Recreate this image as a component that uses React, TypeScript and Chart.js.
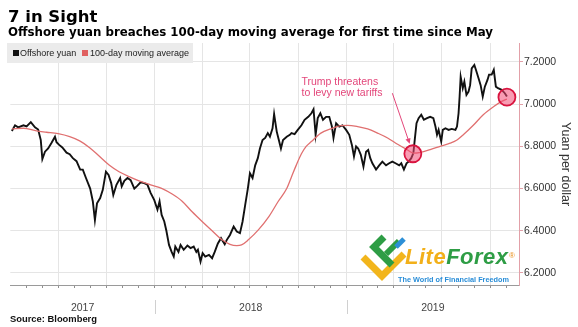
import React, { useEffect, useRef } from 'react';
import { Chart, registerables } from 'chart.js';

Chart.register(...registerables);

// Offshore yuan per dollar, sampled closes
const yuanDates = [
  '2017-04-04', '2017-04-10', '2017-04-16', '2017-04-26', '2017-05-02', '2017-05-10', '2017-05-18', '2017-05-24',
  '2017-05-29', '2017-06-01', '2017-06-06', '2017-06-12', '2017-06-18', '2017-06-25', '2017-06-28', '2017-07-03',
  '2017-07-09', '2017-07-17', '2017-07-23', '2017-07-29', '2017-08-05', '2017-08-12', '2017-08-17', '2017-08-23',
  '2017-08-31', '2017-09-05', '2017-09-09', '2017-09-13', '2017-09-19', '2017-09-24', '2017-09-30', '2017-10-05',
  '2017-10-10', '2017-10-14', '2017-10-20', '2017-10-27', '2017-10-30', '2017-11-04', '2017-11-10', '2017-11-16',
  '2017-11-23', '2017-11-29', '2017-12-05', '2017-12-12', '2017-12-18', '2017-12-24', '2017-12-31', '2018-01-06',
  '2018-01-10', '2018-01-14', '2018-01-19', '2018-01-23', '2018-01-28', '2018-02-02', '2018-02-06', '2018-02-09',
  '2018-02-15', '2018-02-19', '2018-02-25', '2018-03-04', '2018-03-10', '2018-03-16', '2018-03-21', '2018-03-24',
  '2018-03-29', '2018-04-02', '2018-04-07', '2018-04-14', '2018-04-20', '2018-04-25', '2018-05-01', '2018-05-07',
  '2018-05-14', '2018-05-18', '2018-05-24', '2018-05-31', '2018-06-06', '2018-06-12', '2018-06-17', '2018-06-22',
  '2018-06-27', '2018-07-01', '2018-07-06', '2018-07-11', '2018-07-16', '2018-07-20', '2018-07-25', '2018-07-30',
  '2018-08-04', '2018-08-08', '2018-08-13', '2018-08-16', '2018-08-21', '2018-08-25', '2018-08-29', '2018-09-02',
  '2018-09-09', '2018-09-15', '2018-09-18', '2018-09-24', '2018-09-30', '2018-10-07', '2018-10-13', '2018-10-20',
  '2018-10-26', '2018-10-30', '2018-11-03', '2018-11-07', '2018-11-12', '2018-11-17', '2018-11-23', '2018-11-29',
  '2018-12-04', '2018-12-07', '2018-12-12', '2018-12-18', '2018-12-24', '2018-12-31', '2019-01-06', '2019-01-11',
  '2019-01-15', '2019-01-19', '2019-01-23', '2019-01-28', '2019-02-02', '2019-02-07', '2019-02-11', '2019-02-15',
  '2019-02-19', '2019-02-26', '2019-03-04', '2019-03-10', '2019-03-17', '2019-03-23', '2019-03-29', '2019-04-04',
  '2019-04-11', '2019-04-15', '2019-04-20', '2019-04-25', '2019-04-29', '2019-05-04', '2019-05-08', '2019-05-11',
  '2019-05-14', '2019-05-18', '2019-05-23', '2019-05-28', '2019-06-03', '2019-06-09', '2019-06-15', '2019-06-19',
  '2019-06-22', '2019-06-25', '2019-06-30', '2019-07-03', '2019-07-08', '2019-07-14', '2019-07-20', '2019-07-27',
  '2019-07-30', '2019-08-02', '2019-08-04', '2019-08-06', '2019-08-10', '2019-08-13', '2019-08-17', '2019-08-21',
  '2019-08-24', '2019-08-27', '2019-09-01', '2019-09-04', '2019-09-09', '2019-09-13', '2019-09-17', '2019-09-21',
  '2019-09-26', '2019-09-29', '2019-10-04', '2019-10-08', '2019-10-12', '2019-10-16', '2019-10-23', '2019-10-29',
  '2019-11-02',
];
const yuanValues = [
  6.873, 6.900, 6.890, 6.900, 6.895, 6.915, 6.890, 6.880,
  6.830, 6.740, 6.775, 6.790, 6.815, 6.846, 6.820, 6.807,
  6.795, 6.770, 6.763, 6.744, 6.730, 6.690, 6.690, 6.650,
  6.600, 6.540, 6.450, 6.530, 6.555, 6.594, 6.680, 6.665,
  6.626, 6.570, 6.618, 6.650, 6.610, 6.637, 6.650, 6.640,
  6.600, 6.614, 6.630, 6.626, 6.618, 6.580, 6.545, 6.500,
  6.540, 6.475, 6.444, 6.400, 6.333, 6.300, 6.278, 6.325,
  6.300, 6.333, 6.310, 6.330, 6.318, 6.325, 6.300, 6.310,
  6.254, 6.294, 6.278, 6.286, 6.270, 6.300, 6.340, 6.365,
  6.336, 6.357, 6.380, 6.420, 6.396, 6.389, 6.444, 6.523,
  6.600, 6.673, 6.650, 6.710, 6.744, 6.790, 6.830, 6.840,
  6.863, 6.846, 6.886, 6.953, 6.870, 6.830, 6.790, 6.830,
  6.846, 6.855, 6.863, 6.858, 6.878, 6.900, 6.926, 6.940,
  6.957, 6.976, 6.855, 6.934, 6.957, 6.926, 6.940, 6.940,
  6.894, 6.840, 6.910, 6.894, 6.900, 6.878, 6.855, 6.807,
  6.752, 6.800, 6.790, 6.760, 6.704, 6.775, 6.783, 6.744,
  6.720, 6.690, 6.710, 6.728, 6.710, 6.720, 6.728, 6.720,
  6.710, 6.720, 6.690, 6.720, 6.728, 6.744, 6.768, 6.840,
  6.910, 6.934, 6.950, 6.926, 6.934, 6.940, 6.934, 6.894,
  6.855, 6.878, 6.823, 6.878, 6.886, 6.878, 6.883, 6.878,
  6.894, 6.957, 7.036, 7.130, 7.076, 7.107, 7.044, 7.060,
  7.090, 7.170, 7.186, 7.163, 7.123, 7.090, 7.036, 7.083,
  7.115, 7.140, 7.140, 7.163, 7.083, 7.076, 7.068, 7.052,
  7.036,
];

// 100-day moving average
const maDates = [
  '2017-04-04', '2017-04-26', '2017-05-21', '2017-06-09', '2017-07-01', '2017-07-23', '2017-08-11', '2017-08-30',
  '2017-09-18', '2017-10-06', '2017-10-25', '2017-11-13', '2017-12-02', '2017-12-24', '2018-01-15', '2018-02-03',
  '2018-02-22', '2018-03-13', '2018-04-01', '2018-04-20', '2018-05-09', '2018-05-24', '2018-06-06', '2018-06-15',
  '2018-06-28', '2018-07-17', '2018-08-06', '2018-08-24', '2018-09-09', '2018-09-18', '2018-09-27', '2018-10-07',
  '2018-10-16', '2018-10-26', '2018-11-13', '2018-12-02', '2018-12-21', '2019-01-03', '2019-01-22', '2019-02-10',
  '2019-03-01', '2019-03-20', '2019-04-08', '2019-04-27', '2019-05-08', '2019-05-22', '2019-06-09', '2019-06-28',
  '2019-07-17', '2019-07-30', '2019-08-11', '2019-08-30', '2019-09-18', '2019-10-08', '2019-10-22', '2019-11-02',
];
const maValues = [
  6.883, 6.886, 6.873, 6.867, 6.860, 6.846, 6.826, 6.794,
  6.752, 6.712, 6.680, 6.657, 6.637, 6.618, 6.600, 6.574,
  6.540, 6.490, 6.444, 6.400, 6.357, 6.336, 6.330, 6.333,
  6.357, 6.404, 6.467, 6.540, 6.600, 6.655, 6.710, 6.765,
  6.800, 6.823, 6.863, 6.883, 6.898, 6.900, 6.894, 6.883,
  6.863, 6.840, 6.810, 6.783, 6.768, 6.772, 6.785, 6.800,
  6.815, 6.830, 6.855, 6.900, 6.950, 6.989, 7.012, 7.024,
];

// Circled moments: the May crossing and the latest breach
const highlightDates = ['2019-05-07', '2019-11-02'];
const highlightValues = [6.765, 7.033];

const yTickValues = [6.2, 6.4, 6.6, 6.8, 7.0, 7.2];
const yearLabels = ['2017', '2018', '2019'];

const axisStart = '2017-04-01';
const axisEnd = '2019-11-25';
const yMin = 6.143;
const yMax = 7.29;

// Annotation arrow, in data units
const arrowFrom = { date: '2019-03-29', value: 7.052 };
const arrowTo = { date: '2019-05-01', value: 6.812 };

const PINK = '#e3467a';
const dayNum = (iso: string) => Date.parse(iso + 'T00:00:00Z') / 86400000;

function buildAxisTicks(min: number, max: number) {
  const months: number[] = [];
  const quarters = new Set<number>();
  const start = new Date(min * 86400000);
  let y = start.getUTCFullYear();
  let m = start.getUTCMonth();
  for (;;) {
    const v = Date.UTC(y, m, 1) / 86400000;
    if (v > max) break;
    if (v > min) {
      months.push(v);
      if (m % 3 === 0) quarters.add(v);
    }
    m += 1;
    if (m > 11) { m = 0; y += 1; }
  }
  const mids = new Map<number, string>();
  for (const yr of yearLabels) {
    const a = Math.max(min, dayNum(`${yr}-01-01`));
    const b = Math.min(max, dayNum(`${Number(yr) + 1}-01-01`));
    mids.set((a + b) / 2, yr);
  }
  return { months, quarters, mids };
}

export default function App() {
  const canvasRef = useRef<HTMLCanvasElement | null>(null);

  useEffect(() => {
    const canvas = canvasRef.current;
    if (!canvas) return;
    const xMin = dayNum(axisStart);
    const xMax = dayNum(axisEnd);
    const { months, quarters, mids } = buildAxisTicks(xMin, xMax);
    const monthSet = new Set(months);

    const decorations = {
      id: 'decorations',
      beforeDatasetsDraw(chart: any) {
        const { ctx, scales } = chart;
        const x = scales.x;
        const y = scales.y;
        const x0 = x.getPixelForValue(dayNum(arrowFrom.date));
        const y0 = y.getPixelForValue(arrowFrom.value);
        const x1 = x.getPixelForValue(dayNum(arrowTo.date));
        const y1 = y.getPixelForValue(arrowTo.value);
        const ang = Math.atan2(y1 - y0, x1 - x0);
        ctx.save();
        ctx.strokeStyle = PINK;
        ctx.fillStyle = PINK;
        ctx.lineWidth = 1;
        ctx.beginPath();
        ctx.moveTo(x0, y0);
        ctx.lineTo(x1 - Math.cos(ang) * 3, y1 - Math.sin(ang) * 3);
        ctx.stroke();
        ctx.beginPath();
        ctx.moveTo(x1, y1);
        ctx.lineTo(x1 - Math.cos(ang - 0.45) * 6, y1 - Math.sin(ang - 0.45) * 6);
        ctx.lineTo(x1 - Math.cos(ang + 0.45) * 6, y1 - Math.sin(ang + 0.45) * 6);
        ctx.closePath();
        ctx.fill();
        ctx.restore();
      },
      afterDraw(chart: any) {
        const { ctx, scales } = chart;
        const x = scales.x;
        ctx.save();
        ctx.strokeStyle = '#d0d0d0';
        ctx.lineWidth = 1;
        for (const yr of yearLabels.slice(1)) {
          const px = Math.round(x.getPixelForValue(dayNum(`${yr}-01-01`))) + 0.5;
          ctx.beginPath();
          ctx.moveTo(px, 300);
          ctx.lineTo(px, 314);
          ctx.stroke();
        }
        ctx.restore();
      },
    };

    const chart = new Chart(canvas, {
      type: 'line',
      data: {
        datasets: [
          {
            label: 'highlights',
            data: highlightDates.map((d, i) => ({ x: dayNum(d), y: highlightValues[i] })),
            showLine: false,
            pointRadius: 8.5,
            pointBackgroundColor: 'rgba(242, 74, 116, 0.55)',
            pointBorderColor: '#d9143f',
            pointBorderWidth: 1.8,
            order: 0,
          },
          {
            label: '100-day moving average',
            data: maDates.map((d, i) => ({ x: dayNum(d), y: maValues[i] })),
            borderColor: '#e07070',
            borderWidth: 1.3,
            pointRadius: 0,
            cubicInterpolationMode: 'monotone',
            order: 1,
          },
          {
            label: 'Offshore yuan',
            data: yuanDates.map((d, i) => ({ x: dayNum(d), y: yuanValues[i] })),
            borderColor: '#111111',
            borderWidth: 1.9,
            pointRadius: 0,
            tension: 0,
            order: 2,
          },
        ],
      },
      options: {
        responsive: false,
        animation: false,
        devicePixelRatio: 1,
        layout: { padding: { left: 7, top: 43, right: 0, bottom: 0 } },
        plugins: { legend: { display: false }, tooltip: { enabled: false } },
        scales: {
          x: {
            type: 'linear',
            min: xMin,
            max: xMax,
            afterBuildTicks: (scale: any) => {
              const vals = [...months, ...mids.keys()].sort((a, b) => a - b);
              scale.ticks = vals.map((v) => ({ value: v }));
            },
            afterFit: (scale: any) => { scale.height = 42; },
            grid: {
              color: (ctx: any) => (ctx.tick && quarters.has(ctx.tick.value) ? '#e5e5e5' : 'rgba(0,0,0,0)'),
              tickColor: (ctx: any) => (ctx.tick && monthSet.has(ctx.tick.value) ? '#8f8f8f' : 'rgba(0,0,0,0)'),
              tickLength: 3,
            },
            border: { color: '#9a9a9a', width: 1 },
            ticks: {
              autoSkip: false,
              maxRotation: 0,
              padding: 14,
              color: '#444',
              font: { family: '"Liberation Sans", Arial, sans-serif', size: 10.5 },
              callback: (value: any) => mids.get(Number(value)) ?? '',
            },
          },
          y: {
            type: 'linear',
            position: 'right',
            min: yMin,
            max: yMax,
            afterBuildTicks: (scale: any) => {
              scale.ticks = yTickValues.map((v) => ({ value: v }));
            },
            afterFit: (scale: any) => { scale.width = 59; },
            grid: { color: '#e5e5e5', tickColor: '#e2a0a8', tickLength: 4 },
            border: { color: '#e2a0a8', width: 1 },
            ticks: {
              padding: 1,
              color: '#333',
              font: { family: '"Liberation Sans", Arial, sans-serif', size: 10.5 },
              callback: (value: any) => Number(value).toFixed(4),
            },
            title: {
              display: true,
              text: 'Yuan per dollar',
              color: '#333',
              font: { family: '"Liberation Sans", Arial, sans-serif', size: 12.5 },
              padding: { top: 5.5, bottom: 0 },
            },
          },
        },
      },
      plugins: [decorations],
    } as any);

    return () => chart.destroy();
  }, []);

  const sans = '"Liberation Sans", Arial, sans-serif';
  const bold = '"DejaVu Sans", Verdana, sans-serif';
  const abs = (left: number, top: number, extra: React.CSSProperties = {}): React.CSSProperties => ({
    position: 'absolute', left, top, lineHeight: 1, whiteSpace: 'nowrap', ...extra,
  });

  return (
    <div style={{ position: 'fixed', left: 0, top: 0, width: 578, height: 327, background: '#fff', overflow: 'hidden', fontFamily: sans }}>
      <canvas ref={canvasRef} width={578} height={327} style={{ position: 'absolute', left: 0, top: 0 }} />

      <div style={abs(8, 8.7, { fontFamily: bold, fontWeight: 'bold', fontSize: 16.5, color: '#000' })}>7 in Sight</div>
      <div style={abs(8, 27.3, { fontFamily: bold, fontWeight: 'bold', fontSize: 11.8, color: '#000' })}>
        Offshore yuan breaches 100-day moving average for first time since May
      </div>

      <div style={abs(7, 43, { width: 186, height: 20, background: '#ebebeb' })} />
      <div style={abs(13, 50, { width: 6, height: 6, background: '#111' })} />
      <div style={abs(20, 49.1, { fontSize: 9, color: '#222' })}>Offshore yuan</div>
      <div style={abs(82, 50, { width: 6, height: 6, background: '#e06060' })} />
      <div style={abs(90, 49.1, { fontSize: 9, color: '#222' })}>100-day moving average</div>

      <div style={abs(301.5, 75.5, { fontSize: 10.5, lineHeight: '11.7px', color: PINK })}>
        Trump threatens<br />to levy new tariffs
      </div>

      <svg width={578} height={327} style={{ position: 'absolute', left: 0, top: 0, pointerEvents: 'none' }}>
        <polyline points="363,257 382,276 404,254" fill="none" stroke="#f2b51c" strokeWidth={7} strokeLinejoin="miter" />
        <polyline points="384,237 374,247 392,265" fill="none" stroke="#2e9d45" strokeWidth={7} strokeLinejoin="miter" />
        <line x1={386} y1={254} x2={399} y2={241} stroke="#2e9d45" strokeWidth={6} />
        <line x1={396} y1={247} x2={404} y2={239} stroke="#2d8fd6" strokeWidth={5} />
      </svg>
      <div style={abs(405, 246, { fontSize: 22, fontWeight: 'bold', fontStyle: 'italic', letterSpacing: 0.5 })}>
        <span style={{ color: '#f2b01a' }}>Lite</span><span style={{ color: '#2e9d45' }}>Forex</span>
      </div>
      <div style={abs(509, 252, { fontSize: 8, color: '#e9901a' })}>®</div>
      <div style={abs(398, 275.5, { fontSize: 7.3, fontWeight: 'bold', color: '#2a8ed8' })}>The World of Financial Freedom</div>

      <div style={abs(10, 314, { fontSize: 9.4, fontWeight: 'bold', color: '#111' })}>Source: Bloomberg</div>
    </div>
  );
}
